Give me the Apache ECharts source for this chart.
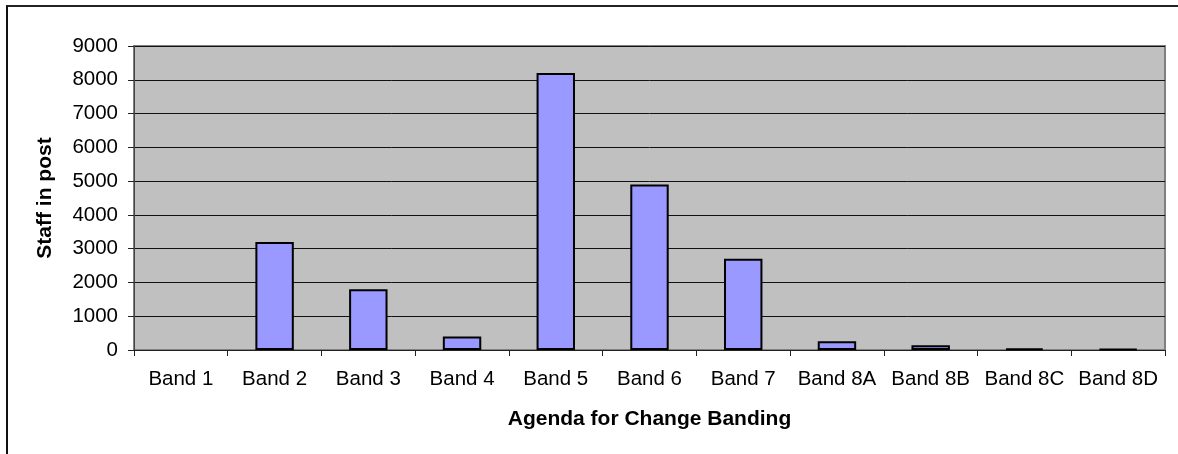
<!DOCTYPE html>
<html>
<head>
<meta charset="utf-8">
<script src="https://cdn.jsdelivr.net/npm/echarts@6/dist/echarts.min.js"></script>
<style>
  html, body { margin: 0; padding: 0; background: #fff; }
  #frame { position: absolute; left: 6px; top: 5px; width: 1172px; height: 449px;
           border-top: 2px solid #222; border-left: 2px solid #111; box-sizing: border-box; }
  #chart { position: absolute; left: 0; top: 0; width: 1178px; height: 454px; }
</style>
</head>
<body>
<div id="frame"></div>
<div id="chart"></div>
<script>
const categories = ['Band 1', 'Band 2', 'Band 3', 'Band 4', 'Band 5', 'Band 6', 'Band 7', 'Band 8A', 'Band 8B', 'Band 8C', 'Band 8D'];
const staffInPost = [0, 3200, 1800, 400, 8200, 4900, 2700, 260, 140, 50, 30];
const yTicks = { min: 0, max: 9000, interval: 1000 };

const chart = echarts.init(document.getElementById('chart'), null, { renderer: 'canvas' });
const font = 'Liberation Sans, Arial, sans-serif';

// Empty bands get no outline so nothing is drawn for them
const barData = staffInPost.map(v => (v === 0
  ? { value: v, itemStyle: { borderWidth: 0 } }
  : v));

chart.setOption({
  animation: false,
  grid: {
    left: 134, right: 13, top: 46, bottom: 104,
    show: true, backgroundColor: '#C0C0C0', borderColor: '#808080', borderWidth: 2
  },
  xAxis: {
    type: 'category',
    data: categories,
    name: 'Agenda for Change Banding',
    nameLocation: 'middle',
    nameGap: 59,
    nameTextStyle: { fontFamily: font, fontSize: 21, fontWeight: 'bold', color: '#000' },
    axisLine: { show: true, lineStyle: { color: '#222', width: 1 } },
    axisTick: { show: true, interval: 0, alignWithLabel: false, length: 6, lineStyle: { color: '#222' } },
    axisLabel: { interval: 0, fontFamily: font, fontSize: 20.5, color: '#000', margin: 19 },
    splitLine: { show: false }
  },
  yAxis: {
    type: 'value',
    min: yTicks.min, max: yTicks.max, interval: yTicks.interval,
    name: 'Staff in post',
    nameLocation: 'middle',
    nameGap: 78,
    nameRotate: 90,
    nameTextStyle: { fontFamily: font, fontSize: 21, fontWeight: 'bold', color: '#000' },
    axisLine: { show: true, lineStyle: { color: '#444', width: 1 } },
    axisTick: { show: true, length: 6, inside: false, lineStyle: { color: '#222' } },
    axisLabel: { fontFamily: font, fontSize: 20.5, color: '#000', margin: 16,
                 formatter: v => String(v) },
    splitLine: { show: true, lineStyle: { color: '#111', width: 1 } }
  },
  series: [{
    type: 'bar',
    data: barData,
    barWidth: '41%',
    itemStyle: { color: '#9999FF', borderColor: '#000', borderWidth: 2 }
  }]
});
</script>
</body>
</html>
